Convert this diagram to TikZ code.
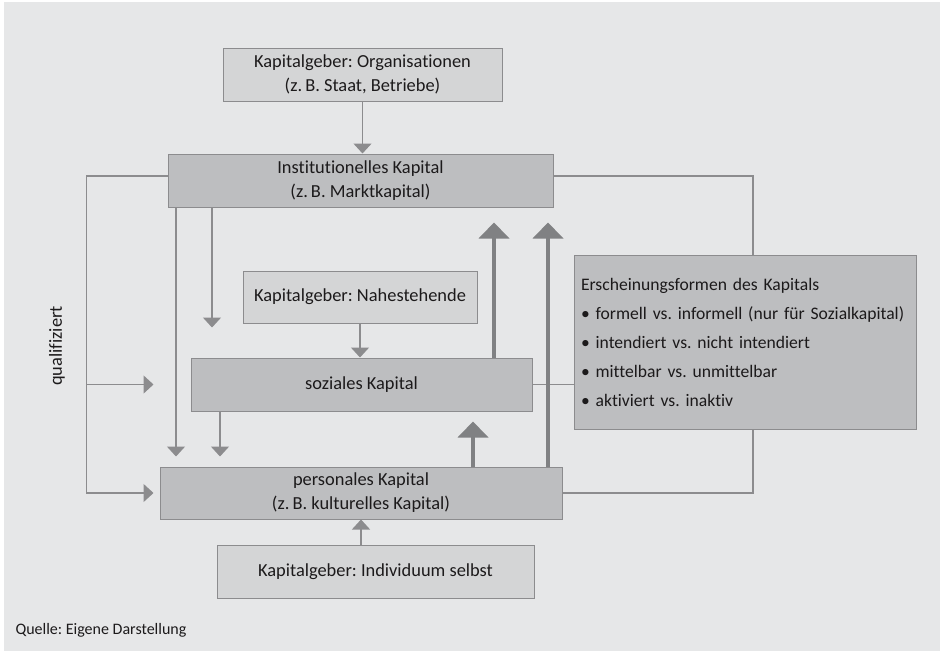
\documentclass[tikz,border=0pt]{standalone}
\usepackage{fontspec}
\setmainfont{Carlito}[Ligatures={NoCommon}]
\usetikzlibrary{arrows.meta}
\definecolor{bggray}{HTML}{E6E7E8}
\definecolor{boxlight}{HTML}{D4D5D6}
\definecolor{boxdark}{HTML}{BDBEC0}
\definecolor{linegray}{HTML}{8C8C8E}
\definecolor{boostgray}{HTML}{808183}
\definecolor{textdark}{HTML}{1C1A1B}
\frenchspacing

\begin{document}
\begin{tikzpicture}[x=1pt, y=-1pt, >={Triangle[width=18pt,length=10pt]},
  every node/.style={font=\fontsize{18.4}{24}\selectfont, text=textdark},
  giver/.style={rectangle, draw=linegray, line width=1pt, fill=boxlight, align=center, inner sep=0pt},
  kapital/.style={giver, fill=boxdark},
  link/.style={draw=linegray, line width=1.3pt},
  boost/.style={draw=boostgray, line width=4.5pt, -{Triangle[width=30pt,length=16pt]}}]

% Background
\fill[white] (0,0) rectangle (940,651);
\fill[bggray] (4,2) rectangle (940,651);
\useasboundingbox (0,0) rectangle (940,651);

% Kapitalgeber
\node[giver, minimum width=279pt, minimum height=53pt] at (362.5,74.5) (orgs) {Kapitalgeber: Organisationen\\(z.\,B. Staat, Betriebe)};
\node[giver, minimum width=234pt, minimum height=52pt] at (360,297) (nahe) {Kapitalgeber: Nahestehende};
\node[giver, minimum width=317pt, minimum height=53pt] at (375.5,571.5) (indiv) {Kapitalgeber: Individuum selbst};

% Kapitalarten
\node[kapital, minimum width=385pt, minimum height=53pt] at (360.5,180.5) (inst) {Institutionelles Kapital\\(z.\,B. Marktkapital)};
\node[kapital, minimum width=341pt, minimum height=53pt] at (361.5,384.5) (sozial) {soziales Kapital};
\node[kapital, minimum width=402pt, minimum height=52pt] at (361,493) (personal) {personales Kapital\\(z.\,B. kulturelles Kapital)};

% Erscheinungsformen
\node[kapital, minimum width=342pt, minimum height=174pt, text width=328pt, align=left, font=\fontsize{17.6}{29}\selectfont] at (745,342) (formen) {Erscheinungsformen des Kapitals\\
\textbullet\ formell vs. informell (nur für Sozialkapital)\\
\textbullet\ intendiert vs. nicht intendiert\\
\textbullet\ mittelbar vs. unmittelbar\\
\textbullet\ aktiviert vs. inaktiv};

% Labels
\node[rotate=90] at (57,346) (quali) {qualifiziert};
\node[anchor=west, font=\fontsize{16}{18}\selectfont] at (12,630) (quelle) {Quelle: Eigene Darstellung};

% Kapitalgeber to Kapital
\draw[link,->] (orgs.south) -- (orgs.south |- inst.north);
\draw[link,->] (nahe.south) -- (nahe.south |- sozial.north);
\draw[link,<-] (personal.south) -- (personal.south |- indiv.north);

% qualifiziert loop on the left
\coordinate (branch) at (87,384.5);
\draw[link,->] ([yshift=4.5pt]inst.west) -- ++(-81,0) |- ([xshift=-6pt]personal.west);
\draw[link,->] (branch) -- ([xshift=-37pt]sozial.west);

% Institutionelles Kapital downwards
\draw[link,->] ([xshift=-184.5pt]inst.south) -- ([xshift=-185pt,yshift=10pt]personal.north);
\draw[link,->] ([xshift=-148.5pt]inst.south) -- ++(0,120);
\draw[link,->] ([xshift=-141.5pt]sozial.south) -- ([xshift=-141pt,yshift=10pt]personal.north);

% Links to Erscheinungsformen
\draw[link] ([yshift=4.5pt]inst.east) -| ([xshift=8pt]formen.north);
\draw[link] (sozial.east) -- (sozial.east -| formen.west);
\draw[link] ([xshift=8pt]formen.south) |- (personal.east);

% Upward arrows
\draw[boost] ([xshift=132.5pt]sozial.north) -- ++(0,-135);
\draw[boost] ([xshift=187pt]personal.north) -- ++(0,-244);
\draw[boost] ([xshift=112pt]personal.north) -- ++(0,-45);

\end{tikzpicture}
\end{document}
